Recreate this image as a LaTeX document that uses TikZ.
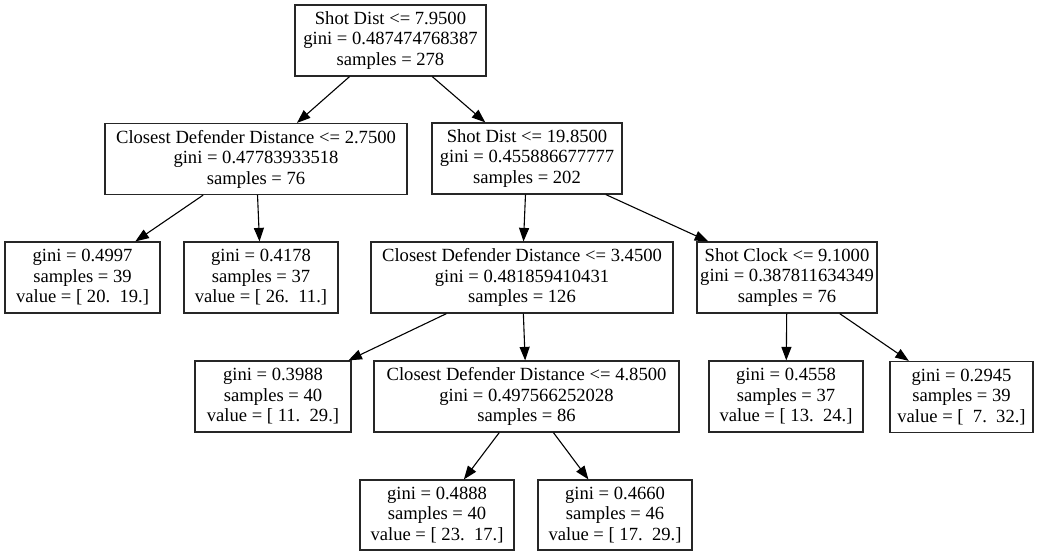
\documentclass[tikz,border=0pt]{standalone}
\usepackage{fontspec}
\setmainfont{Liberation Serif}
\usetikzlibrary{arrows.meta}
\begin{document}
\begin{tikzpicture}[x=1pt,y=-1pt,
  box/.style={draw=black!85,line width=1.2pt,rectangle,inner sep=0pt,align=center,
    minimum height=71pt,font=\fontsize{18.6}{20.5}\selectfont},
  inner/.style={box},
  leaf/.style={box},
  edge/.style={draw=black,line width=1.1pt,-{Triangle[length=13.5pt,width=10pt]}}]
\useasboundingbox (0,0) rectangle (1046,556);
\fill[white] (0,0) rectangle (1046,556);
\node[inner,minimum width=191pt] (root) at (390.5,40.5) {Shot Dist <= 7.9500\\gini = 0.487474768387\\samples = 278};
\node[inner,minimum width=302pt] (n1) at (256,159) {Closest Defender Distance <= 2.7500\\gini = 0.47783933518\\samples = 76};
\node[inner,minimum width=190pt] (n2) at (527,158.5) {Shot Dist <= 19.8500\\gini = 0.455886677777\\samples = 202};
\node[leaf,minimum width=155pt] (l1) at (82.5,277.5) {gini = 0.4997\\samples = 39\\value = [ 20.\ \ 19.]};
\node[leaf,minimum width=154pt] (l2) at (261,277.5) {gini = 0.4178\\samples = 37\\value = [ 26.\ \ 11.]};
\node[inner,minimum width=302pt] (n3) at (522,277.5) {Closest Defender Distance <= 3.4500\\gini = 0.481859410431\\samples = 126};
\node[inner,minimum width=180pt] (n4) at (787,277.5) {Shot Clock <= 9.1000\\gini = 0.387811634349\\samples = 76};
\node[leaf,minimum width=156pt] (l3) at (273,396.5) {gini = 0.3988\\samples = 40\\value = [ 11.\ \ 29.]};
\node[inner,minimum width=305pt] (n5) at (526.5,396.5) {Closest Defender Distance <= 4.8500\\gini = 0.497566252028\\samples = 86};
\node[leaf,minimum width=154pt] (l4) at (786,396.5) {gini = 0.4558\\samples = 37\\value = [ 13.\ \ 24.]};
\node[leaf,minimum width=143pt] (l5) at (961.5,397) {gini = 0.2945\\samples = 39\\value = [\ \ 7.\ \ 32.]};
\node[leaf,minimum width=154pt,minimum height=70pt] (l6) at (437,515) {gini = 0.4888\\samples = 40\\value = [ 23.\ \ 17.]};
\node[leaf,minimum width=154pt,minimum height=70pt] (l7) at (615,515) {gini = 0.4660\\samples = 46\\value = [ 17.\ \ 29.]};
\draw[edge] (root) -- (n1);
\draw[edge] (root) -- (n2);
\draw[edge] (n1) -- (l1);
\draw[edge] (n1) -- (l2);
\draw[edge] (n2) -- (n3);
\draw[edge] (n2) -- (n4);
\draw[edge] (n3) -- (l3);
\draw[edge] (n3) -- (n5);
\draw[edge] (n4) -- (l4);
\draw[edge] (n4) -- (l5);
\draw[edge] (n5) -- (l6);
\draw[edge] (n5) -- (l7);
\end{tikzpicture}
\end{document}
